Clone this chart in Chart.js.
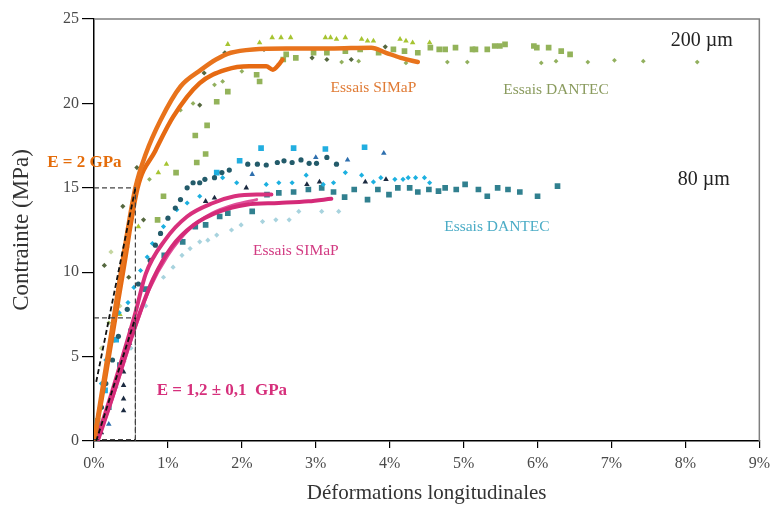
<!DOCTYPE html>
<html>
<head>
<meta charset="utf-8">
<script src="https://cdn.jsdelivr.net/npm/chart.js@4.4.1/dist/chart.umd.min.js"></script>
<style>
  html, body { margin: 0; padding: 0; background: #fff; }
  #wrap { width: 776px; height: 509px; }
</style>
</head>
<body>
<div id="wrap"><canvas id="chart" width="776" height="509"></canvas></div>
<script>
// axis ticks
const xTicks = [0, 1, 2, 3, 4, 5, 6, 7, 8, 9];
const yTicks = [0, 5, 10, 15, 20, 25];

// modulus construction lines (strain %, stress MPa)
const e2X = [0.03, 0.56];
const e2Y = [3.5, 15];
const e12X = [0.03, 0.56];
const e12Y = [0, 7.3];
const box15X = [0, 0.56, 0.56];
const box15Y = [15, 15, 0];
const box73X = [0, 0.56, 0.56];
const box73Y = [7.3, 7.3, 0];
const boxBaseX = [0, 0.56];
const boxBaseY = [0.08, 0.08];

// 200 µm - SIMaP tests
const simap200aX = [0, 0.1, 0.25, 0.4, 0.56, 0.7, 0.9, 1.17, 1.45, 1.65, 1.85, 2.15, 2.6, 3.2, 3.75, 3.95, 4.15, 4.38];
const simap200aY = [0, 2.7, 6.8, 11.0, 15.0, 17.0, 19.0, 21.0, 22.0, 22.6, 23.0, 23.2, 23.25, 23.25, 23.3, 23.0, 22.7, 22.45];
const simap200bX = [0, 0.1, 0.25, 0.4, 0.59, 0.83, 1.07, 1.43, 1.79, 2.1, 2.33, 2.42, 2.5, 2.55];
const simap200bY = [0, 2.4, 6.3, 10.2, 15.0, 17.2, 19.2, 21.2, 22.0, 22.2, 22.2, 22.0, 22.3, 22.6];

// 80 µm - SIMaP tests
const simap80aX = [0.03, 0.2, 0.4, 0.56, 0.7, 0.96, 1.26, 1.61, 1.9, 2.2, 2.4];
const simap80aY = [0, 2.3, 5.2, 7.6, 9.9, 11.9, 13.3, 14.1, 14.5, 14.6, 14.6];
const simap80bX = [0.05, 0.25, 0.45, 0.62, 0.8, 1.05, 1.35, 1.7, 2.06, 2.5, 2.9, 3.21];
const simap80bY = [0, 2.6, 5.4, 7.6, 9.6, 11.5, 12.8, 13.6, 14.0, 14.1, 14.2, 14.35];
const simap80cX = [0.05, 0.3, 0.55, 0.75, 1.0, 1.3, 1.6, 1.9, 2.2];
const simap80cY = [0, 3.2, 6.6, 9.0, 11.0, 12.6, 13.5, 14.0, 14.3];

// 200 µm - DANTEC tests
const dantec200SqX = [0.05, 0.25, 0.86, 0.94, 1.11, 1.39, 1.51, 1.37, 1.53, 1.66, 1.81, 2.2, 2.24, 2.56, 2.6, 2.73, 2.97, 3.15, 3.4, 3.6, 3.85, 4.05, 4.2, 4.38, 4.55, 4.67, 4.75, 4.89, 5.12, 5.16, 5.32, 5.42, 5.49, 5.56, 5.95, 5.99, 6.15, 6.32, 6.44];
const dantec200SqY = [1.2, 6.0, 13.1, 14.5, 15.9, 16.5, 17.0, 18.1, 18.7, 20.1, 20.7, 21.7, 21.3, 22.6, 22.9, 22.7, 23.0, 23.0, 23.1, 23.2, 23.0, 23.2, 23.1, 23.0, 23.3, 23.2, 23.2, 23.3, 23.2, 23.2, 23.2, 23.4, 23.4, 23.5, 23.4, 23.3, 23.3, 23.1, 22.9];
const dantec200TriX = [0.1, 0.35, 0.6, 0.87, 0.98, 1.81, 2.24, 2.41, 2.53, 2.66, 3.13, 3.2, 3.28, 3.4, 3.62, 3.7, 3.78, 4.14, 4.22, 4.31, 4.54];
const dantec200TriY = [2.0, 7.5, 12.7, 15.9, 16.4, 23.5, 23.6, 23.9, 23.9, 23.9, 23.9, 23.9, 23.8, 23.9, 23.8, 23.7, 23.7, 23.8, 23.7, 23.6, 23.6];
const dantec200DotX = [0.2, 0.45, 0.75, 1.17, 1.34, 1.63, 1.74, 2.0, 3.35, 3.58, 4.22, 4.78, 5.05, 6.05, 6.25, 6.68, 7.04, 7.43, 8.16];
const dantec200DotY = [7.0, 11.5, 15.5, 19.6, 20.0, 21.1, 21.3, 21.9, 22.45, 22.5, 22.4, 22.45, 22.45, 22.4, 22.5, 22.45, 22.55, 22.5, 22.45];
const dantec200DarkX = [0.14, 0.47, 0.39, 0.5, 0.67, 0.58, 1.43, 1.49, 1.77, 2.3, 2.95, 3.15, 3.48, 3.94];
const dantec200DarkY = [10.4, 9.7, 13.9, 13.2, 13.1, 16.2, 19.9, 21.8, 23.0, 23.2, 22.7, 22.6, 22.6, 23.35];
const dantec200PaleX = [0.1, 0.23, 0.35];
const dantec200PaleY = [5.5, 11.2, 8.0];

// 80 µm - DANTEC tests
const dantec80TealX = [0.08, 0.2, 0.35, 0.5, 0.7, 0.95, 1.2, 1.37, 1.51, 1.7, 1.81, 2.14, 2.34, 2.5, 2.7, 2.9, 3.08, 3.24, 3.39, 3.52, 3.7, 3.84, 3.99, 4.11, 4.27, 4.38, 4.53, 4.66, 4.75, 4.9, 5.02, 5.2, 5.32, 5.46, 5.6, 5.76, 6.0, 6.27];
const dantec80TealY = [0.8, 2.0, 4.5, 6.5, 9.0, 11.0, 11.8, 12.7, 12.8, 13.3, 13.5, 13.6, 14.6, 14.7, 14.75, 14.9, 15.0, 14.75, 14.45, 14.9, 14.3, 14.9, 14.6, 15.0, 15.0, 14.75, 14.9, 14.8, 15.0, 14.9, 15.2, 14.9, 14.5, 15.0, 14.9, 14.75, 14.5, 15.1];
const dantec80CyanSqX = [0.05, 0.15, 0.3, 1.66, 1.97, 2.26, 2.7, 3.13, 3.66];
const dantec80CyanSqY = [1.0, 3.0, 6.0, 15.9, 16.6, 17.35, 17.35, 17.3, 17.4];
const dantec80CyanX = [0.1, 0.16, 0.25, 0.34, 0.46, 0.54, 0.63, 0.72, 0.79, 0.94, 1.12, 1.26, 1.43, 1.66, 1.74, 1.93, 2.33, 2.5, 2.68, 2.87, 3.1, 3.24, 3.4, 3.62, 3.78, 3.88, 4.07, 4.18, 4.25, 4.35, 4.47, 4.54];
const dantec80CyanY = [3.4, 4.8, 6.8, 7.6, 8.2, 9.1, 10.1, 10.9, 11.7, 12.7, 13.7, 14.1, 14.5, 15.9, 15.6, 15.3, 15.2, 15.3, 15.3, 15.75, 15.2, 15.3, 15.9, 15.75, 15.35, 15.6, 15.5, 15.5, 15.6, 15.6, 15.6, 15.3];
const dantec80SlateX = [0.1, 0.16, 0.25, 0.33, 0.45, 0.6, 0.76, 0.83, 0.9, 1.0, 1.1, 1.17, 1.26, 1.34, 1.43, 1.5, 1.63, 1.73, 1.83, 2.08, 2.21, 2.33, 2.48, 2.57, 2.68, 2.8, 2.91, 3.01, 3.15, 3.28];
const dantec80SlateY = [2.0, 3.4, 4.8, 6.2, 7.8, 9.3, 10.7, 11.6, 12.3, 13.2, 13.8, 14.3, 15.0, 15.3, 15.3, 15.5, 15.6, 15.9, 16.05, 16.4, 16.4, 16.35, 16.5, 16.6, 16.5, 16.65, 16.45, 16.45, 16.8, 16.4];
const dantec80LightX = [0.1, 0.3, 0.5, 0.7, 0.94, 1.07, 1.19, 1.3, 1.43, 1.54, 1.66, 1.86, 1.99, 2.28, 2.46, 2.64, 2.77, 3.08, 3.31];
const dantec80LightY = [1.0, 3.2, 5.5, 8.0, 9.7, 10.3, 11.0, 11.4, 11.8, 11.9, 12.2, 12.5, 12.8, 13.0, 13.1, 13.1, 13.6, 13.6, 13.6];
const dantec80NavyX = [0.1, 0.4, 0.4, 0.4, 0.4, 0.4, 0.48, 1.51, 1.63, 2.06, 2.88, 3.05, 3.67, 3.95];
const dantec80NavyY = [0.5, 1.8, 2.5, 3.3, 4.1, 4.8, 5.8, 14.2, 14.4, 15.0, 15.2, 15.35, 15.35, 15.5];
const dantec80BlueX = [0.2, 2.14, 3.0, 3.43, 3.92];
const dantec80BlueY = [1.0, 15.8, 16.8, 16.65, 17.05];

const pts = (xs, ys) => xs.map((x, i) => ({ x, y: ys[i] }));

const FONT = "'Liberation Serif', 'Times New Roman', serif";
const ORANGE = '#e8731c';
const MAGENTA = '#d8307c';

// text labels placed in data coordinates
const notes = [
  { text: 'E = 2 GPa', x: -0.13, y: 16.5, color: '#e46c0a', font: 'bold 17px ' + FONT },
  { text: 'E = 1,2 \u00b1 0,1  GPa', x: 1.73, y: 2.96, color: '#d6307c', font: 'bold 17px ' + FONT },
  { text: 'Essais SIMaP', x: 3.78, y: 20.9, color: '#e07b35', font: '15.5px ' + FONT },
  { text: 'Essais DANTEC', x: 6.25, y: 20.8, color: '#8a9b5e', font: '15.5px ' + FONT },
  { text: '200 \u00b5m', x: 8.22, y: 23.7, color: '#222', font: '20px ' + FONT },
  { text: '80 \u00b5m', x: 8.25, y: 15.5, color: '#222', font: '20px ' + FONT },
  { text: 'Essais SIMaP', x: 2.73, y: 11.26, color: '#d23a82', font: '15.5px ' + FONT },
  { text: 'Essais DANTEC', x: 5.45, y: 12.68, color: '#4bacc6', font: '15.5px ' + FONT }
];

const notesPlugin = {
  id: 'notes',
  afterDatasetsDraw(chart) {
    const { ctx, scales: { x, y }, chartArea } = chart;
    ctx.save();
    // gray frame on top and right
    ctx.strokeStyle = '#7f7f7f';
    ctx.lineWidth = 1.5;
    ctx.beginPath();
    ctx.moveTo(chartArea.left, chartArea.top);
    ctx.lineTo(chartArea.right, chartArea.top);
    ctx.lineTo(chartArea.right, chartArea.bottom);
    ctx.stroke();
    ctx.textAlign = 'center';
    ctx.textBaseline = 'middle';
    notes.forEach(n => {
      ctx.font = n.font;
      ctx.fillStyle = n.color;
      ctx.fillText(n.text, x.getPixelForValue(n.x), y.getPixelForValue(n.y));
    });
    ctx.restore();
  }
};

const dashed = (xs, ys, color, width) => ({
  data: pts(xs, ys), showLine: true, borderColor: color, borderWidth: width,
  borderDash: [5, 3], pointRadius: 0, tension: 0
});
const curve = (xs, ys, color, width) => ({
  data: pts(xs, ys), showLine: true, borderColor: color, borderWidth: width,
  pointRadius: 0, cubicInterpolationMode: 'monotone', borderCapStyle: 'round'
});
const marks = (xs, ys, color, style, radius) => ({
  data: pts(xs, ys), showLine: false, pointStyle: style, pointRadius: radius,
  backgroundColor: color, borderColor: color, pointBorderWidth: 0
});

const datasets = [
  dashed(e2X, e2Y, '#111', 1.8),
  dashed(e12X, e12Y, '#111', 1.8),
  dashed(box15X, box15Y, '#444', 1.2),
  dashed(box73X, box73Y, '#444', 1.2),
  dashed(boxBaseX, boxBaseY, '#444', 1.2),
  curve(simap200aX, simap200aY, ORANGE, 4.5),
  curve(simap200bX, simap200bY, '#e66a12', 4.5),
  curve(simap80aX, simap80aY, MAGENTA, 4),
  curve(simap80bX, simap80bY, '#d42a78', 4),
  curve(simap80cX, simap80cY, '#e0509a', 3),
  marks(dantec80NavyX, dantec80NavyY, '#1b2a40', 'triangle', 3.2),
  marks(dantec80BlueX, dantec80BlueY, '#2e6fae', 'triangle', 3.2),
  marks(dantec80SlateX, dantec80SlateY, '#235b6a', 'circle', 2.6),
  marks(dantec80CyanX, dantec80CyanY, '#1cb0e0', 'rectRot', 2.6),
  marks(dantec80CyanSqX, dantec80CyanSqY, '#22aee0', 'rect', 4),
  marks(dantec80TealX, dantec80TealY, '#31808f', 'rect', 4),
  marks(dantec80LightX, dantec80LightY, '#a8d3de', 'rectRot', 2.6),
  marks(dantec200DarkX, dantec200DarkY, '#55683f', 'rectRot', 2.6),
  marks(dantec200TriX, dantec200TriY, '#a6c431', 'triangle', 3.2),
  marks(dantec200DotX, dantec200DotY, '#92b05e', 'rectRot', 2.4),
  marks(dantec200PaleX, dantec200PaleY, '#c4d6a0', 'rectRot', 2.6),
  marks(dantec200SqX, dantec200SqY, '#93b35a', 'rect', 4)
];

new Chart(document.getElementById('chart'), {
  type: 'scatter',
  data: { datasets },
  options: {
    responsive: false,
    animation: false,
    devicePixelRatio: 1,
    layout: { padding: { top: 19, right: 14, left: 0, bottom: 0 } },
    plugins: { legend: { display: false }, tooltip: { enabled: false } },
    scales: {
      x: {
        type: 'linear', min: 0, max: 9,
        afterBuildTicks: s => { s.ticks = xTicks.map(v => ({ value: v })); },
        afterFit: s => { s.height = 68; },
        ticks: { callback: v => v + '%', color: '#4a4a4a', font: { family: FONT, size: 16 }, padding: 6, maxRotation: 0 },
        grid: { drawOnChartArea: false, drawTicks: true, tickLength: 7, color: '#000', lineWidth: 1.2 },
        border: { color: '#000', width: 1.5 },
        title: { display: true, text: 'Déformations longitudinales', color: '#333', font: { family: FONT, size: 21 }, padding: { top: 0, bottom: 3 } }
      },
      y: {
        type: 'linear', min: 0, max: 25,
        afterBuildTicks: s => { s.ticks = yTicks.map(v => ({ value: v })); },
        afterFit: s => { s.width = 94; },
        ticks: { color: '#4a4a4a', font: { family: FONT, size: 16 }, padding: 3 },
        grid: { drawOnChartArea: false, drawTicks: true, tickLength: 12, color: '#000', lineWidth: 1.2 },
        border: { color: '#000', width: 1.5 },
        title: { display: true, text: 'Contrainte (MPa)', color: '#333', font: { family: FONT, size: 23 }, padding: { top: 8, bottom: 0 } }
      }
    }
  },
  plugins: [notesPlugin]
});
</script>
</body>
</html>
